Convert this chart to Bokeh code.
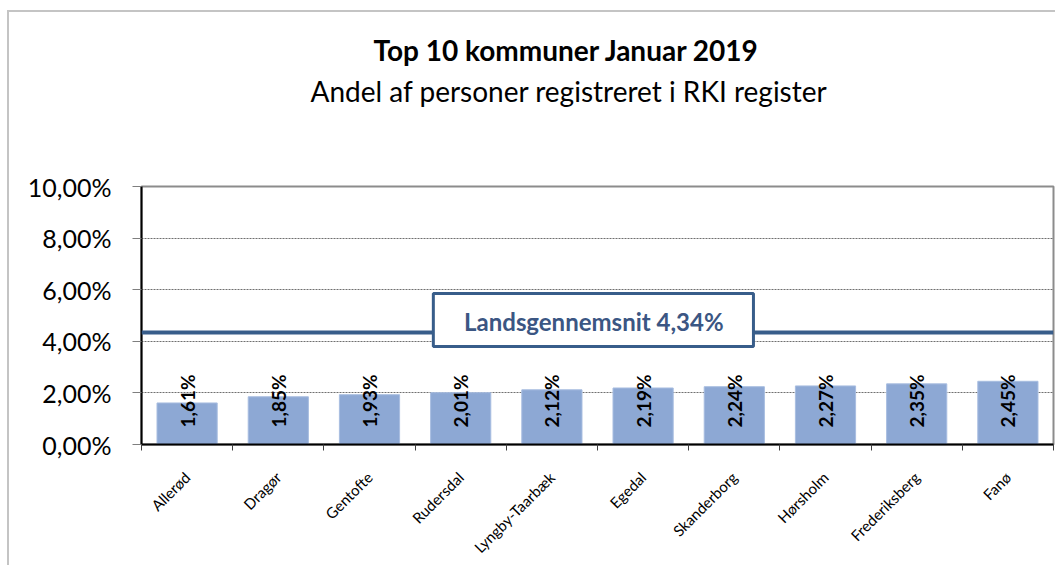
from bokeh.plotting import figure
from bokeh.models import (Range1d, FixedTicker, LinearAxis, Span, BoxAnnotation,
                          Label, ColumnDataSource, Title)
from bokeh.core.properties import value
from bokeh.embed import file_html
from bokeh.resources import INLINE
import math

# ---- data ----
kommuner = ["Allerød", "Dragør", "Gentofte", "Rudersdal", "Lyngby-Taarbæk",
            "Egedal", "Skanderborg", "Hørsholm", "Frederiksberg", "Fanø"]
andel = [1.61, 1.85, 1.93, 2.01, 2.12, 2.19, 2.24, 2.27, 2.35, 2.45]
bar_labels = ["1,61%", "1,85%", "1,93%", "2,01%", "2,12%", "2,19%", "2,24%", "2,27%", "2,35%", "2,45%"]
y_ticks = [0, 2, 4, 6, 8, 10]
y_tick_labels = ["0,00%", "2,00%", "4,00%", "6,00%", "8,00%", "10,00%"]
landsgennemsnit = 4.34
landsgennemsnit_label = "Landsgennemsnit 4,34%"
title_text = "Top 10 kommuner Januar 2019"
subtitle_text = "Andel af personer registreret i RKI register"

FONT = "Lato"
n = len(kommuner)
centers = [i + 0.5 for i in range(n)]
bounds = list(range(n + 1))

W, H = 1055, 565
p = figure(width=W, height=H, output_backend="svg", toolbar_location=None,
           x_range=Range1d(0, n), y_range=Range1d(0, 10),
           x_axis_location=None, y_axis_location=None,
           min_border_left=141, min_border_right=2, min_border_top=186, min_border_bottom=121)
p.background_fill_color = "white"
p.border_fill_color = None
# outer chart border drawn as CSS background behind the transparent canvas border
p.styles = {
    "background": ("linear-gradient(#c4c4c4, #c4c4c4) 7px 10px / 2px 100% no-repeat, "
                   "linear-gradient(#c4c4c4, #c4c4c4) 7px 10px / 100% 2px no-repeat, white"),
}
p.outline_line_color = "#8c8c8c"
p.outline_line_width = 2

# titles (first added sits closest to the frame); a blank spacer keeps the gap
p.add_layout(Title(text=" ", text_font=FONT, text_font_size="10px", standoff=62), "above")
p.add_layout(Title(text=subtitle_text, align="left", offset=169, standoff=5,
                   text_font=FONT, text_font_size="28px", text_font_style="normal",
                   text_color="black"), "above")
p.add_layout(Title(text=title_text, align="left", offset=232, standoff=6,
                   text_font=FONT, text_font_size="28px", text_font_style="bold",
                   text_color="black"), "above")

# axes
yax = LinearAxis(ticker=FixedTicker(ticks=y_ticks, minor_ticks=[]),
                 major_label_overrides={t: s for t, s in zip(y_ticks, y_tick_labels)})
yax.axis_line_color = "black"
yax.axis_line_width = 2
yax.major_tick_out = 9
yax.major_tick_in = 0
yax.major_tick_line_color = "#7f7f7f"
yax.major_tick_line_width = 1
yax.major_label_standoff = 21
yax.major_label_text_font = FONT
yax.major_label_text_font_size = "25px"
yax.major_label_text_color = "black"
p.add_layout(yax, "left")

xax = LinearAxis(ticker=FixedTicker(ticks=centers, minor_ticks=bounds),
                 major_label_overrides={c: k for c, k in zip(centers, kommuner)})
xax.axis_line_color = "black"
xax.axis_line_width = 2
xax.major_tick_out = 0
xax.major_tick_in = 0
xax.minor_tick_out = 6
xax.minor_tick_in = 0
xax.minor_tick_line_color = "#404040"
xax.major_label_orientation = math.pi / 4
xax.major_label_standoff = 24
xax.major_label_text_font = FONT
xax.major_label_text_font_size = "15px"
xax.major_label_text_color = "black"
p.add_layout(xax, "below")

p.xgrid.visible = False
p.ygrid.ticker = FixedTicker(ticks=y_ticks)
p.ygrid.grid_line_color = "#6f6f6f"
p.ygrid.grid_line_dash = "2 1"
p.ygrid.grid_line_width = 1

src = ColumnDataSource(dict(x=centers, top=andel, lab=bar_labels,
                            ly=[0.66] * n))
p.vbar(x="x", top="top", width=0.66, source=src, fill_color="#8DA8D4",
       line_color="#a8bde0", line_width=1)
p.text(x="x", y="ly", text="lab", source=src, angle=math.pi / 2,
       text_align="left", text_baseline="middle", text_font=value(FONT),
       text_font_style="bold", text_font_size="19px", text_color="black")

# average line and callout
p.add_layout(Span(location=landsgennemsnit, dimension="width", line_color="#385D8A",
                  line_width=4))
p.add_layout(BoxAnnotation(left=3.20, right=6.71, bottom=3.8, top=5.85,
                           fill_color="white", fill_alpha=1.0,
                           line_color="#385D8A", line_width=3, line_alpha=1.0))
p.add_layout(Label(x=4.96, y=4.75, text=landsgennemsnit_label, text_align="center",
                   text_baseline="middle", text_font=FONT, text_font_style="bold",
                   text_font_size="24px", text_color="#3B5683"))

open("out.html", "w").write(file_html(p, INLINE))
